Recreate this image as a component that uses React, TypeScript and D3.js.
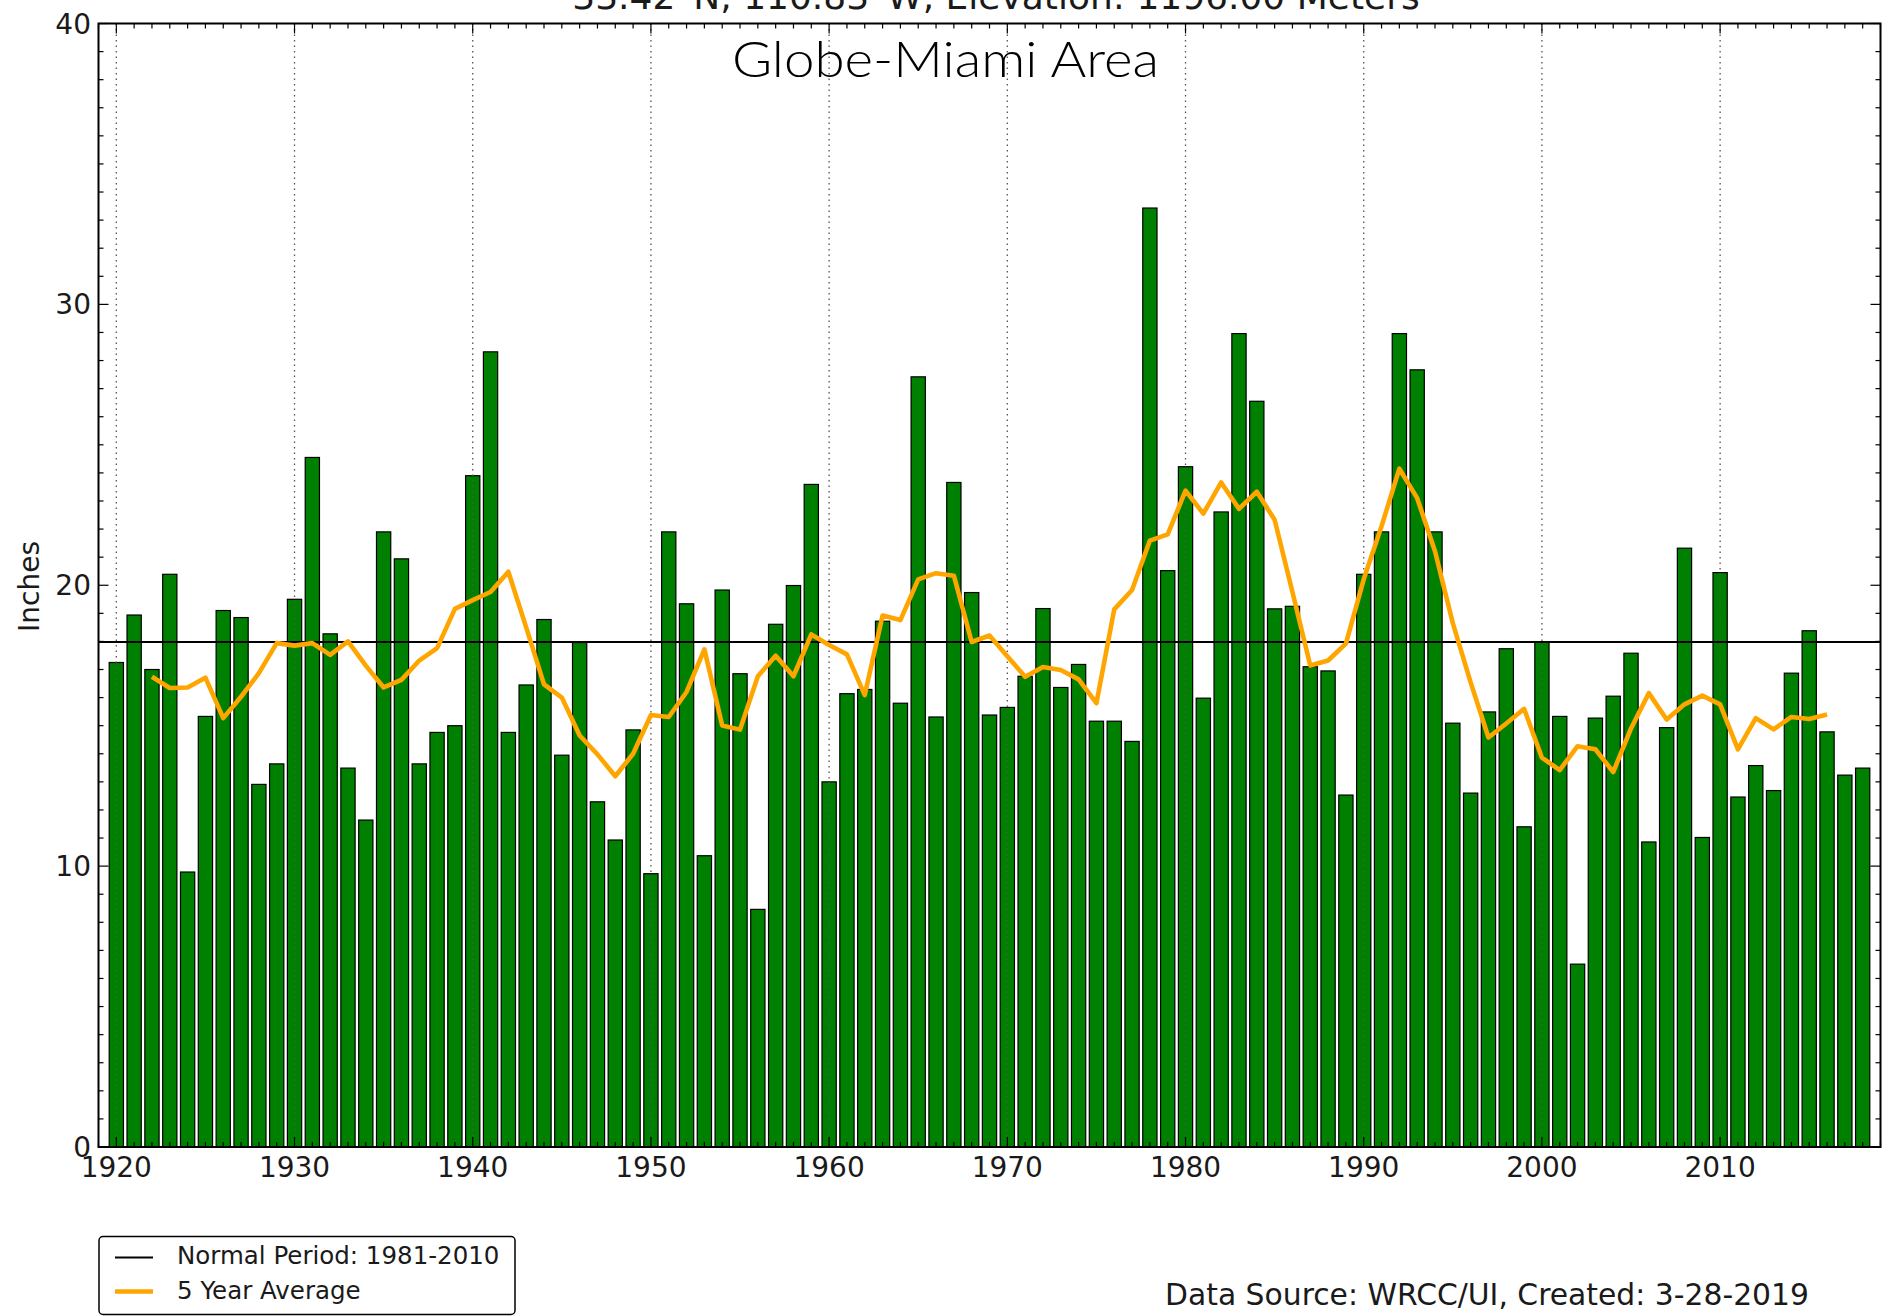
import React from 'react';
import * as d3 from 'd3';

// annual precipitation, Globe-Miami area (inches), 1920-2018
const firstYear = 1920;
const annual = [
  17.25, 18.94, 17.0, 20.39, 9.79, 15.33, 19.1, 18.85, 12.91, 13.64,
  19.5, 24.55, 18.27, 13.49, 11.64, 21.9, 20.94, 13.64, 14.76, 15.0,
  23.9, 28.31, 14.76, 16.45, 18.78, 13.95, 17.96, 12.29, 10.93, 14.85,
  9.73, 21.9, 19.34, 10.37, 19.83, 16.85, 8.46, 18.61, 19.99, 23.59,
  13.0, 16.14, 16.29, 18.72, 15.8, 27.42, 15.31, 23.66, 19.74, 15.38,
  15.65, 16.76, 19.17, 16.36, 17.18, 15.16, 15.16, 14.44, 33.43, 20.52,
  24.22, 15.98, 22.61, 28.96, 26.55, 19.16, 19.25, 17.1, 16.95, 12.53,
  20.39, 21.9, 28.96, 27.67, 21.9, 15.09, 12.6, 15.49, 17.74, 11.4,
  17.98, 15.33, 6.51, 15.27, 16.05, 17.58, 10.86, 14.93, 21.32, 11.02,
  20.45, 12.46, 13.58, 12.69, 16.87, 18.38, 14.78, 13.24, 13.49,
];

// 5 year average as plotted, 1922-2016
const avgFirstYear = 1922;
const fiveYear = [
  16.74, 16.34, 16.36, 16.71, 15.27, 16.03, 16.87, 17.94,
  17.85, 17.94, 17.52, 18.0, 17.14, 16.36, 16.63, 17.32, 17.76, 19.16,
  19.47, 19.76, 20.48, 18.5, 16.47, 16.0, 14.65, 13.98, 13.2, 14.0,
  15.38, 15.31, 16.2, 17.72, 15.01, 14.86, 16.76, 17.49, 16.76, 18.25,
  17.87, 17.54, 16.09, 18.92, 18.76, 20.21, 20.43, 20.34, 17.98, 18.21,
  17.47, 16.74, 17.09, 16.98, 16.65, 15.8, 19.14, 19.83, 21.59, 21.81,
  23.37, 22.55, 23.66, 22.72, 23.33, 22.33, 19.76, 17.14, 17.32, 17.92,
  20.21, 22.1, 24.15, 23.1, 21.21, 18.65, 16.54, 14.58, 15.08, 15.6,
  13.86, 13.42, 14.27, 14.16, 13.35, 14.9, 16.16, 15.22, 15.76, 16.07,
  15.76, 14.16, 15.27, 14.87, 15.31, 15.24, 15.4,
];

const normal = 17.98;
const xTicks = [1920, 1930, 1940, 1950, 1960, 1970, 1980, 1990, 2000, 2010];
const yTicks = [0, 10, 20, 30, 40];

const W = 1890;
const H = 1316;
const left = 98.5;
const right = 1880.5;
const top = 23.5;
const bottom = 1147;
const font = '"DejaVu Sans", sans-serif';

export default function App() {
  const x = d3.scaleLinear().domain([1919, 2019]).range([left, right]);
  const y = d3.scaleLinear().domain([0, 40]).range([bottom, top]);
  const barW = x(1919.8) - x(1919);

  const bars = annual.map((v, i) => ({ year: firstYear + i, v }));
  const avg = fiveYear.map((v, i) => ({ year: avgFirstYear + i, v }));
  const line = d3.line<{ year: number; v: number }>()
    .x(d => x(d.year))
    .y(d => y(d.v));

  const minorX = d3.range(1919, 2020);
  const minorY = d3.range(0, 41);

  return (
    <svg width={W} height={H} style={{ position: 'absolute', left: 0, top: 0, background: '#fff' }}>
      <rect x={0} y={0} width={W} height={H} fill="#fff" />

      {bars.map(d => (
        <rect
          key={d.year}
          x={x(d.year) - barW / 2}
          y={y(d.v)}
          width={barW}
          height={y(0) - y(d.v)}
          fill="#008000"
          stroke="#000"
          strokeWidth={1.2}
        />
      ))}

      {xTicks.map(t => (
        <line key={'g' + t} x1={x(t)} x2={x(t)} y1={top} y2={bottom}
          stroke="#555" strokeWidth={1.3} strokeDasharray="1.5 4" />
      ))}

      <line x1={left} x2={right} y1={y(normal)} y2={y(normal)} stroke="#000" strokeWidth={1.8} />

      <path d={line(avg) || ''} fill="none" stroke="#FFA500" strokeWidth={4.6} strokeLinejoin="round" />

      {/* ticks, inward on all four sides */}
      {minorX.map(t => {
        const len = t % 10 === 0 ? 10 : 5;
        return (
          <g key={'tx' + t} stroke="#000" strokeWidth={1.2}>
            <line x1={x(t)} x2={x(t)} y1={top} y2={top + len} />
            <line x1={x(t)} x2={x(t)} y1={bottom} y2={bottom - len} />
          </g>
        );
      })}
      {minorY.map(t => {
        const len = t % 10 === 0 ? 10 : 5;
        return (
          <g key={'ty' + t} stroke="#000" strokeWidth={1.2}>
            <line x1={left} x2={left + len} y1={y(t)} y2={y(t)} />
            <line x1={right} x2={right - len} y1={y(t)} y2={y(t)} />
          </g>
        );
      })}

      <rect x={left} y={top} width={right - left} height={bottom - top} fill="none" stroke="#000" strokeWidth={2} />

      {xTicks.map(t => (
        <text key={'xl' + t} x={x(t)} y={1177} textAnchor="middle" fontFamily={font} fontSize={28} fill="#1a1a1a">
          {t}
        </text>
      ))}
      {yTicks.map(t => (
        <text key={'yl' + t} x={91} y={y(t)} dy="0.36em" textAnchor="end" fontFamily={font} fontSize={28} fill="#1a1a1a">
          {t}
        </text>
      ))}

      <text transform="translate(39,586.5) rotate(-90)" textAnchor="middle" fontFamily={font} fontSize={28} fill="#1a1a1a">
        Inches
      </text>

      <text x={996} y={9} textAnchor="middle" fontFamily={font} fontSize={36} fill="#1a1a1a">
        33.42°N, 110.83°W, Elevation: 1196.00 Meters
      </text>

      <text x={732} y={77} fontFamily='Lato, "Open Sans", sans-serif' fontSize={49} fontWeight={300} fill="#000"
        textLength={427} lengthAdjust="spacingAndGlyphs">
        Globe-Miami Area
      </text>

      {/* legend */}
      <rect x={99} y={1236.5} width={416} height={78} rx={4} fill="#fff" stroke="#000" strokeWidth={1.5} />
      <line x1={115} x2={153} y1={1257.5} y2={1257.5} stroke="#000" strokeWidth={1.8} />
      <text x={177} y={1264} fontFamily={font} fontSize={24.5} fill="#1a1a1a">Normal Period: 1981-2010</text>
      <line x1={115} x2={153} y1={1291.5} y2={1291.5} stroke="#FFA500" strokeWidth={4.6} />
      <text x={177} y={1298.5} fontFamily={font} fontSize={24.5} fill="#1a1a1a">5 Year Average</text>

      <text x={1165} y={1305} fontFamily={font} fontSize={29.8} fill="#1a1a1a">
        Data Source: WRCC/UI, Created: 3-28-2019
      </text>
    </svg>
  );
}
